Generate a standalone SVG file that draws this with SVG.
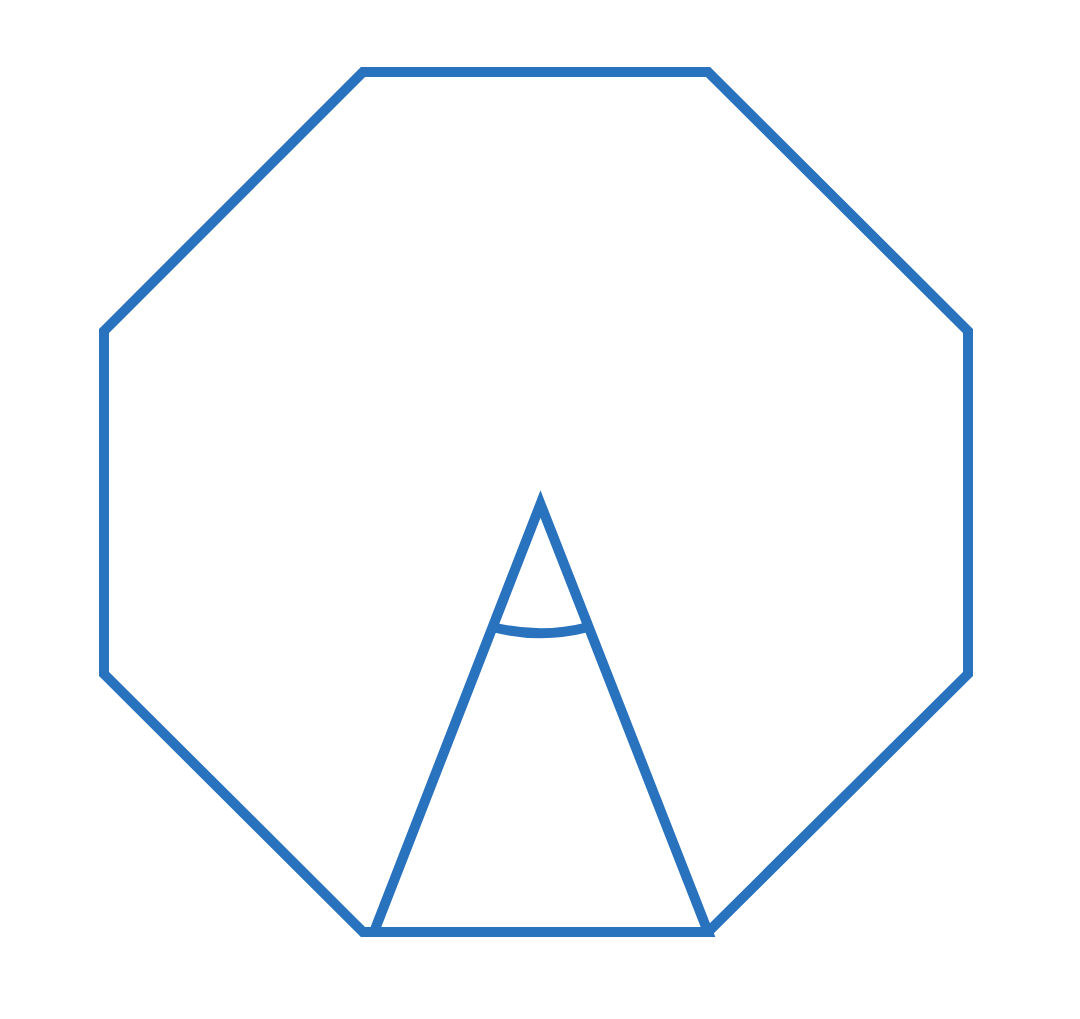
<svg xmlns="http://www.w3.org/2000/svg" width="1080" height="1019" viewBox="0 0 1080 1019">
<style>
.s{fill:none;stroke:#2872be;stroke-width:10;stroke-linejoin:miter;stroke-miterlimit:10}
</style>
<rect width="1080" height="1019" fill="#ffffff"/>
<g id="octagon">
<polygon class="s" points="363,72 708,72 968,331 968,674 708,932 363,932 104,674 104,331"/>
</g>
<g id="triangle">
<polygon class="s" points="540.5,504 708,932 374,932"/>
</g>
<g id="angle-arc">
<path class="s" d="M492.5,627 A190,190 0 0 0 588.5,627"/>
</g>
</svg>
